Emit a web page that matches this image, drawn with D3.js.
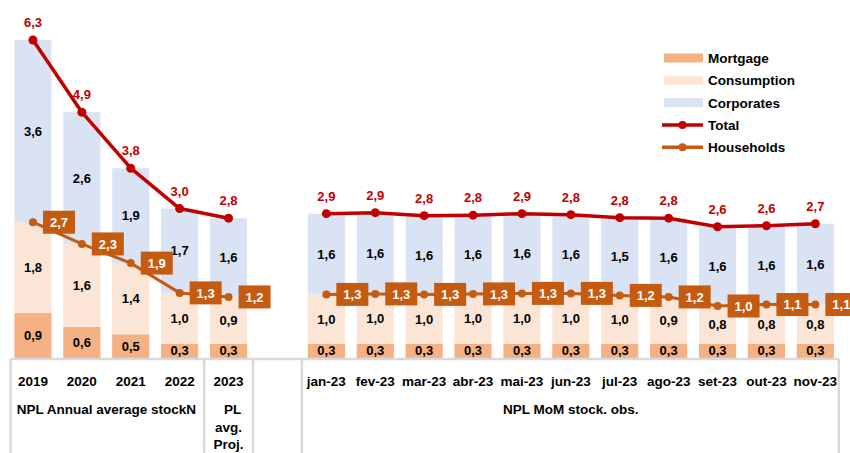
<!DOCTYPE html>
<html>
<head>
<meta charset="utf-8">
<script src="https://cdn.jsdelivr.net/npm/d3@7"></script>
<style>
  html, body { margin: 0; padding: 0; background: #fff; }
  svg { display: block; font-family: "Liberation Sans", Arial, sans-serif; }
</style>
</head>
<body>
<svg id="chart" width="850" height="453"></svg>
<script>
// ---- data ----
const categories = ["2019", "2020", "2021", "2022", "2023", "",
  "jan-23", "fev-23", "mar-23", "abr-23", "mai-23", "jun-23", "jul-23", "ago-23", "set-23", "out-23", "nov-23"];
const mortgage    = [0.89, 0.62, 0.47, 0.28, 0.28, null, 0.28, 0.28, 0.28, 0.28, 0.28, 0.28, 0.28, 0.28, 0.28, 0.28, 0.28];
const consumption = [1.80, 1.64, 1.41, 1.01, 0.93, null, 0.98, 0.99, 0.98, 0.99, 1.00, 1.00, 0.96, 0.93, 0.75, 0.78, 0.78];
const corporates  = [3.61, 2.61, 1.88, 1.67, 1.56, null, 1.60, 1.61, 1.56, 1.56, 1.58, 1.56, 1.54, 1.56, 1.57, 1.56, 1.60];
const total       = [6.30, 4.87, 3.76, 2.96, 2.77, null, 2.86, 2.88, 2.82, 2.83, 2.86, 2.84, 2.78, 2.77, 2.60, 2.62, 2.66];
const households  = [2.69, 2.26, 1.88, 1.29, 1.21, null, 1.26, 1.27, 1.26, 1.27, 1.28, 1.28, 1.24, 1.21, 1.03, 1.06, 1.06];
const seriesNames = ["Mortgage", "Consumption", "Corporates", "Total", "Households"];
const groupLabels = [
  { from: "2019", to: "2022", lines: ["NPL Annual average stockN"] },
  { from: "2023", to: "2023", lines: ["PL", "avg.", "Proj."] },
  { from: "jan-23", to: "nov-23", lines: ["NPL MoM stock. obs."] }
];

// ---- styles ----
const colors = { Mortgage: "#F4B183", Consumption: "#FBE5D6", Corporates: "#DAE3F3", Total: "#C00000", Households: "#C55A11" };
const fmt = v => d3.format(".1f")(v).replace(".", ",");

const svg = d3.select("#chart");
const x = d3.scaleBand().domain(categories).range([8.5, 839.8]).paddingInner(0.24).paddingOuter(0.12);
const y = d3.scaleLinear().domain([0, 6.3]).range([358, 40]);
const step = x.step();
const left = cat => x(cat) - x.paddingInner() * step / 2;
const right = cat => x(cat) + x.bandwidth() + x.paddingInner() * step / 2;

// ---- stacked bars ----
const rows = categories.map((c, i) => ({ cat: c, Mortgage: mortgage[i], Consumption: consumption[i], Corporates: corporates[i] }))
  .filter(r => r.Mortgage != null);
const stack = d3.stack().keys(["Mortgage", "Consumption", "Corporates"])(rows);
const gBars = svg.append("g");
stack.forEach(layer => {
  gBars.selectAll(null).data(layer).join("rect")
    .attr("x", d => x(d.data.cat))
    .attr("width", x.bandwidth())
    .attr("y", d => y(d[1]))
    .attr("height", d => y(d[0]) - y(d[1]))
    .attr("fill", colors[layer.key]);
});
stack.forEach(layer => {
  gBars.selectAll(null).data(layer).join("text")
    .attr("x", d => x(d.data.cat) + x.bandwidth() / 2)
    .attr("y", d => (y(d[0]) + y(d[1])) / 2 + 4.5)
    .attr("text-anchor", "middle")
    .attr("font-size", 13).attr("font-weight", "bold").attr("fill", "#000")
    .text(d => fmt(d.data[layer.key]));
});

// ---- axis table ----
const axisG = svg.append("g").attr("stroke", "#D9D9D9").attr("stroke-width", 2.5);
axisG.append("line").attr("x1", left("2019") + 2).attr("x2", right("nov-23") - 1).attr("y1", 359).attr("y2", 359);
[left("2019") + 2, left("2023"), left(""), left("jan-23"), right("nov-23") - 1].forEach(xx => {
  axisG.append("line").attr("x1", xx).attr("x2", xx).attr("y1", 359).attr("y2", 453);
});
svg.append("g").selectAll("text").data(categories.filter(c => c !== "")).join("text")
  .attr("x", d => x(d) + x.bandwidth() / 2)
  .attr("y", 386)
  .attr("text-anchor", "middle")
  .attr("font-size", 13.5).attr("font-weight", "bold").attr("fill", "#000")
  .text(d => d);
groupLabels.forEach(g => {
  const cx = (x(g.from) + x(g.to) + x.bandwidth()) / 2;
  g.lines.forEach((t, i) => {
    svg.append("text")
      .attr("x", g.lines.length > 1 ? cx + (i === 0 ? 4 : 0) : cx)
      .attr("y", 414 + i * 17.5)
      .attr("text-anchor", "middle")
      .attr("font-size", 13.5).attr("font-weight", "bold").attr("fill", "#000")
      .text(t);
  });
});

// ---- lines ----
const cx = (c) => x(c) + x.bandwidth() / 2;
function drawLine(vals, color, width, r) {
  const pts = categories.map((c, i) => ({ c, v: vals[i] }));
  svg.append("path").datum(pts)
    .attr("fill", "none").attr("stroke", color).attr("stroke-width", width).attr("stroke-linejoin", "round")
    .attr("d", d3.line().defined(d => d.v != null).x(d => cx(d.c)).y(d => y(d.v)));
  svg.append("g").selectAll("circle").data(pts.filter(d => d.v != null)).join("circle")
    .attr("cx", d => cx(d.c)).attr("cy", d => y(d.v)).attr("r", r).attr("fill", color);
  return pts.filter(d => d.v != null);
}
const hhPts = drawLine(households, colors.Households, 3, 4);
const totPts = drawLine(total, colors.Total, 3.5, 4.5);

// total labels
svg.append("g").selectAll("text").data(totPts).join("text")
  .attr("x", d => cx(d.c)).attr("y", d => y(d.v) - 13)
  .attr("text-anchor", "middle")
  .attr("font-size", 13).attr("font-weight", "bold").attr("fill", colors.Total)
  .text(d => fmt(d.v));

// household label boxes
const hb = svg.append("g").selectAll("g").data(hhPts).join("g")
  .attr("transform", d => `translate(${cx(d.c) + 26},${y(d.v)})`);
hb.append("rect").attr("x", -16).attr("y", -11.5).attr("width", 32).attr("height", 23).attr("fill", colors.Households);
hb.append("text").attr("y", 5).attr("text-anchor", "middle")
  .attr("font-size", 13).attr("font-weight", "bold").attr("fill", "#fff")
  .text(d => fmt(d.v));

// ---- legend ----
const lg = svg.append("g").attr("transform", "translate(662,58)");
seriesNames.forEach((name, i) => {
  const gy = i * 22.3;
  const g = lg.append("g").attr("transform", `translate(0,${gy})`);
  if (i < 3) {
    g.append("rect").attr("x", 2).attr("y", -4.5).attr("width", 39).attr("height", 9).attr("fill", colors[name]);
  } else {
    g.append("line").attr("x1", 0).attr("x2", 41).attr("y1", 0).attr("y2", 0)
      .attr("stroke", colors[name]).attr("stroke-width", 3.5);
    g.append("circle").attr("cx", 20.5).attr("cy", 0).attr("r", 4).attr("fill", colors[name]);
  }
  g.append("text").attr("x", 46).attr("y", 5)
    .attr("font-size", 13.5).attr("font-weight", "bold").attr("fill", "#000")
    .text(name);
});
</script>
</body>
</html>
